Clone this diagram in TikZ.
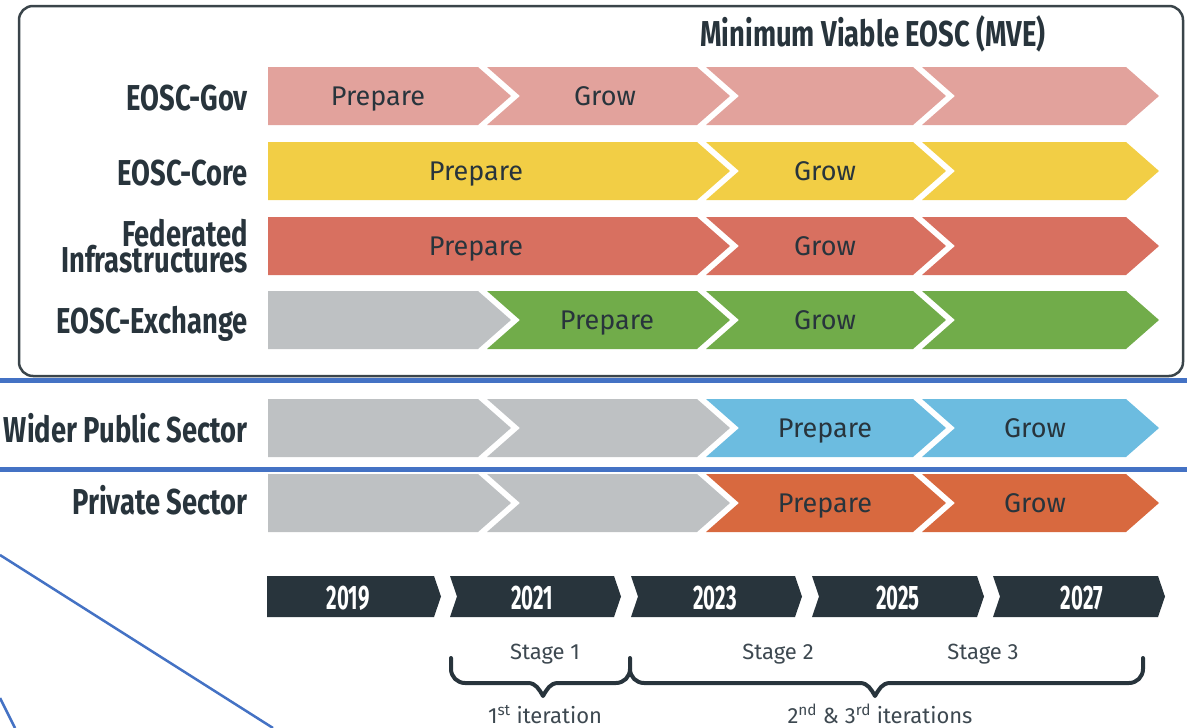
\documentclass[tikz,border=0pt]{standalone}
\usepackage{fontspec}
\setmainfont{Fira Sans}
\newfontfamily\condfont[FakeStretch=0.76]{Fira Sans}
\newfontfamily\yearfont[FakeStretch=0.6]{Fira Sans}
\definecolor{pinkc}{HTML}{E2A29C}
\definecolor{yellowc}{HTML}{F2CE45}
\definecolor{redc}{HTML}{D87060}
\definecolor{greenc}{HTML}{71AC4A}
\definecolor{grayc}{HTML}{BEC1C3}
\definecolor{bluec}{HTML}{6CBCE0}
\definecolor{orangec}{HTML}{D8693F}
\definecolor{darkc}{HTML}{28343C}
\definecolor{linec}{HTML}{4472C4}
\definecolor{boxc}{HTML}{3A444A}
% #1 L, #2 R, #3 yc, #4 half height, #5 tip depth, #6 notch depth, #7 colour
\newcommand{\seg}[7]{\fill[#7] (#1,#3-#4) -- (#2,#3-#4) -- (#2+#5,#3) -- (#2,#3+#4) -- (#1,#3+#4) -- (#1+#6,#3) -- cycle;}
\tikzset{
  lab/.style={font=\condfont\bfseries\fontsize{36}{36}\selectfont, text=darkc, inner sep=0pt},
  ph/.style={font=\fontsize{27}{27}\selectfont, text=darkc, inner sep=0pt, anchor=base},
  yr/.style={font=\yearfont\bfseries\fontsize{34}{34}\selectfont, text=white, inner sep=0pt, anchor=base},
  st/.style={font=\fontsize{22}{22}\selectfont, text=darkc!90, inner sep=0pt},
  bracestyle/.style={draw=darkc, line width=4pt, line cap=round, line join=round},
  blueline/.style={draw=linec},
  frame/.style={draw=boxc, line width=2.5pt, rounded corners=14pt}
}
\begin{document}
\begin{tikzpicture}[x=1pt,y=-1pt]
\useasboundingbox (0,0) rectangle (1187,728);
% frame
\draw[frame] (19,6) rectangle (1183,376);
\node[lab, anchor=base] (mve) at (873,46) {Minimum Viable EOSC (MVE)};
% EOSC-Gov
\seg{268}{478}{96}{29}{33}{0}{pinkc}
\seg{487}{697}{96}{29}{33}{33}{pinkc}
\seg{706}{913}{96}{29}{33}{33}{pinkc}
\seg{922}{1126}{96}{29}{33}{33}{pinkc}
% EOSC-Core
\seg{268}{697}{171}{29}{33}{0}{yellowc}
\seg{706}{913}{171}{29}{33}{33}{yellowc}
\seg{922}{1126}{171}{29}{33}{33}{yellowc}
% Federated
\seg{268}{697}{246}{29}{33}{0}{redc}
\seg{706}{913}{246}{29}{33}{33}{redc}
\seg{922}{1126}{246}{29}{33}{33}{redc}
% Exchange
\seg{268}{478}{320}{29}{33}{0}{grayc}
\seg{487}{697}{320}{29}{33}{33}{greenc}
\seg{706}{913}{320}{29}{33}{33}{greenc}
\seg{922}{1126}{320}{29}{33}{33}{greenc}
% Wider public
\seg{268}{478}{428}{29}{33}{0}{grayc}
\seg{487}{697}{428}{29}{33}{33}{grayc}
\seg{706}{913}{428}{29}{33}{33}{bluec}
\seg{922}{1126}{428}{29}{33}{33}{bluec}
% Private
\seg{268}{478}{503}{29}{33}{0}{grayc}
\seg{487}{697}{503}{29}{33}{33}{grayc}
\seg{706}{913}{503}{29}{33}{33}{orangec}
\seg{922}{1126}{503}{29}{33}{33}{orangec}
% row labels
\node[lab, anchor=base east] (lgov) at (248,110) {EOSC-Gov};
\node[lab, anchor=base east] (lcore) at (248,185) {EOSC-Core};
\node[lab, anchor=base east] (lfed) at (248,246) {Federated};
\node[lab, anchor=base east] (lfed2) at (248,272) {Infrastructures};
\node[lab, anchor=base east] (lexch) at (248,333) {EOSC-Exchange};
\node[lab, anchor=base east] (lwider) at (248,442) {Wider Public Sector};
\node[lab, anchor=base east] (lpriv) at (248,514) {Private Sector};
% phase texts
\node[ph] (gp) at (378,105) {Prepare};
\node[ph] (gg) at (605,105) {Grow};
\node[ph] (cp) at (476,180) {Prepare};
\node[ph] (cg) at (825,180) {Grow};
\node[ph] (fp) at (476,255) {Prepare};
\node[ph] (fg) at (825,255) {Grow};
\node[ph] (ep) at (607,329) {Prepare};
\node[ph] (eg) at (825,329) {Grow};
\node[ph] (wp) at (825,437) {Prepare};
\node[ph] (wg) at (1035,437) {Grow};
\node[ph] (pp) at (825,512) {Prepare};
\node[ph] (pg) at (1035,512) {Grow};
% blue lines
\coordinate (b1l) at (0,380.5); \coordinate (b1r) at (1187,380.5);
\coordinate (b2l) at (0,469.5); \coordinate (b2r) at (1187,469.5);
\coordinate (d1a) at (0,555); \coordinate (d1b) at (273,728);
\coordinate (d2a) at (0,698); \coordinate (d2b) at (15,728);
\draw[blueline, line width=5pt] (b1l) -- (b1r);
\draw[blueline, line width=5pt] (b2l) -- (b2r);
\draw[blueline, line width=2.5pt] (d1a) -- (d1b);
\draw[blueline, line width=2.5pt] (d2a) -- (d2b);
% years
\seg{267}{434}{596.5}{20.5}{7}{0}{darkc}
\seg{450}{614}{596.5}{20.5}{7}{7}{darkc}
\seg{631}{795}{596.5}{20.5}{7}{7}{darkc}
\seg{812}{977}{596.5}{20.5}{7}{7}{darkc}
\seg{993}{1158}{596.5}{20.5}{7}{7}{darkc}
\node[yr] (y19) at (348,609) {2019};
\node[yr] (y21) at (532,609) {2021};
\node[yr] (y23) at (715,609) {2023};
\node[yr] (y25) at (898,609) {2025};
\node[yr] (y27) at (1082,609) {2027};
% braces
\draw[bracestyle] (451,658) -- (451,669) to[out=-90,in=180] (465,683) -- (528,683) to[out=0,in=120] (543,696) to[out=60,in=180] (558,683) -- (616,683) to[out=0,in=-90] (630,669) -- (630,658);
\draw[bracestyle] (630,669) to[out=-90,in=180] (644,683) -- (860,683) to[out=0,in=120] (875,696) to[out=60,in=180] (890,683) -- (1129,683) to[out=0,in=-90] (1143,669) -- (1143,658);
% stage texts
\node[st] (s1) at (545,654) {Stage 1};
\node[st] (s2) at (778,654) {Stage 2};
\node[st] (s3) at (983,654) {Stage 3};
\node[st, anchor=base] (i1) at (545,723) {1\textsuperscript{st} iteration};
\node[st, anchor=base] (i2) at (880,723) {2\textsuperscript{nd} \& 3\textsuperscript{rd} iterations};
\end{tikzpicture}
\end{document}
